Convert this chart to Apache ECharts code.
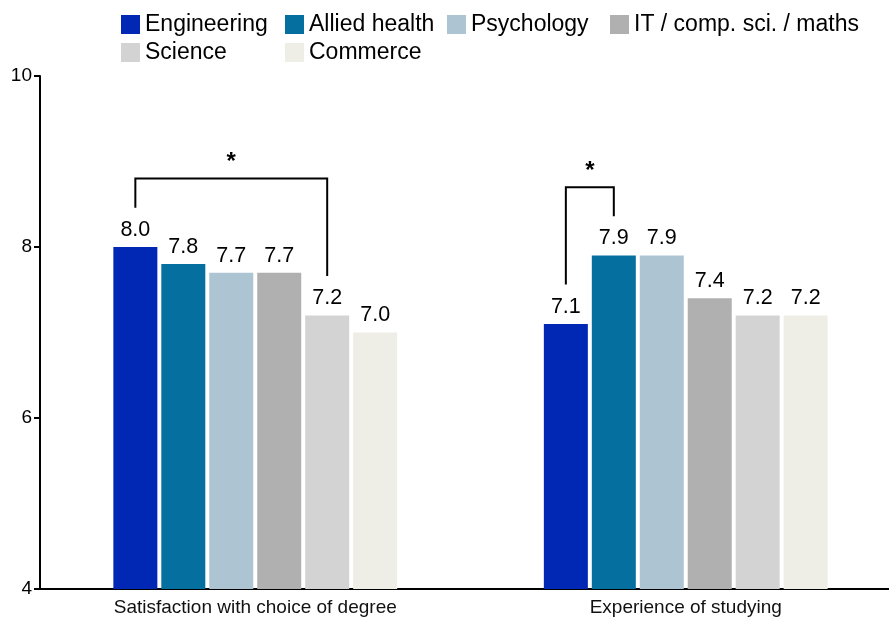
<!DOCTYPE html>
<html>
<head>
<meta charset="utf-8">
<script src="https://cdn.jsdelivr.net/npm/echarts@6/dist/echarts.min.js"></script>
<style>
  html, body { margin: 0; padding: 0; background: #fff; }
  #chart { width: 889px; height: 617px; }
</style>
</head>
<body>
<div id="chart"></div>
<script>
// data
const categories = ['Satisfaction with choice of degree', 'Experience of studying']
const fields = ['Engineering', 'Allied health', 'Psychology', 'IT / comp. sci. / maths', 'Science', 'Commerce']
const engineering = [8.0, 7.1]
const alliedHealth = [7.8, 7.9]
const psychology = [7.7, 7.9]
const itCompSci = [7.7, 7.4]
const science = [7.2, 7.2]
const commerce = [7.0, 7.2]
const yTicks = [4, 6, 8, 10]

// significance brackets: category, from field, to field, bracket top value
const bracketCategory = [0, 1]
const bracketFrom = [0, 0]
const bracketTo = [4, 1]
const bracketTop = [8.8, 8.7]
const bracketLabel = ['*', '*']

const colors = ['#0028b5', '#05709f', '#adc4d3', '#b0b0b0', '#d3d3d3', '#eeeee7']
const values = [engineering, alliedHealth, psychology, itCompSci, science, commerce]
const font = 'Liberation Sans, Arial, sans-serif'

// legend laid out as a 4-column grid
const legendCols = [121, 285, 447, 610]
const legendRows = [13, 41]

const chart = echarts.init(document.getElementById('chart'))

chart.setOption({
  animation: false,
  backgroundColor: '#fff',
  grid: { left: 40, width: 861, top: 76, bottom: 28, outerBoundsMode: 'none' },
  legend: fields.map((name, i) => ({
    left: legendCols[i % 4],
    top: legendRows[Math.floor(i / 4)],
    padding: 0,
    itemWidth: 19,
    itemHeight: 19,
    icon: 'rect',
    data: [name],
    textStyle: { fontFamily: font, fontSize: 23, color: '#000' }
  })),
  xAxis: {
    type: 'category',
    data: categories,
    axisLine: { lineStyle: { color: '#000', width: 2 } },
    axisTick: { show: false },
    axisLabel: { fontFamily: font, fontSize: 19, color: '#111', margin: 9 }
  },
  yAxis: {
    type: 'value',
    min: yTicks[0],
    max: yTicks[yTicks.length - 1],
    interval: 2,
    splitLine: { show: false },
    axisLine: { show: true, lineStyle: { color: '#000', width: 2 } },
    axisTick: { show: true, length: 6, lineStyle: { color: '#000', width: 2 } },
    axisLabel: { fontFamily: font, fontSize: 19, color: '#000', margin: 8 }
  },
  series: fields.map((name, i) => ({
    name: name,
    type: 'bar',
    data: values[i],
    barWidth: 44,
    barGap: '9%',
    itemStyle: { color: colors[i] },
    label: {
      show: true,
      position: 'top',
      distance: 6,
      fontFamily: font,
      fontSize: 21.5,
      color: '#000',
      formatter: p => p.value.toFixed(1)
    }
  }))
})

// brackets placed from the library's own bar layout
function barCenter(seriesIdx, dataIdx) {
  const layout = chart.getModel().getSeriesByIndex(seriesIdx).getData().getItemLayout(dataIdx)
  return layout.x + layout.width / 2
}
function yPix(v) {
  return chart.convertToPixel({ yAxisIndex: 0 }, v)
}

const graphics = []
bracketCategory.forEach((cat, k) => {
  const x1 = barCenter(bracketFrom[k], cat)
  const x2 = barCenter(bracketTo[k], cat)
  const yTop = yPix(bracketTop[k])
  const y1 = yPix(values[bracketFrom[k]][cat] + 0.46)
  const y2 = yPix(values[bracketTo[k]][cat] + 0.46)
  graphics.push({
    type: 'polyline',
    shape: { points: [[x1, y1], [x1, yTop], [x2, yTop], [x2, y2]] },
    style: { stroke: '#000', lineWidth: 2, fill: null }
  })
  graphics.push({
    type: 'text',
    x: (x1 + x2) / 2,
    y: yTop - 4,
    style: {
      text: bracketLabel[k],
      fontFamily: font,
      fontSize: 24,
      fontWeight: 'bold',
      fill: '#000',
      align: 'center',
      verticalAlign: 'bottom'
    }
  })
})
chart.setOption({ graphic: graphics })
</script>
</body>
</html>
